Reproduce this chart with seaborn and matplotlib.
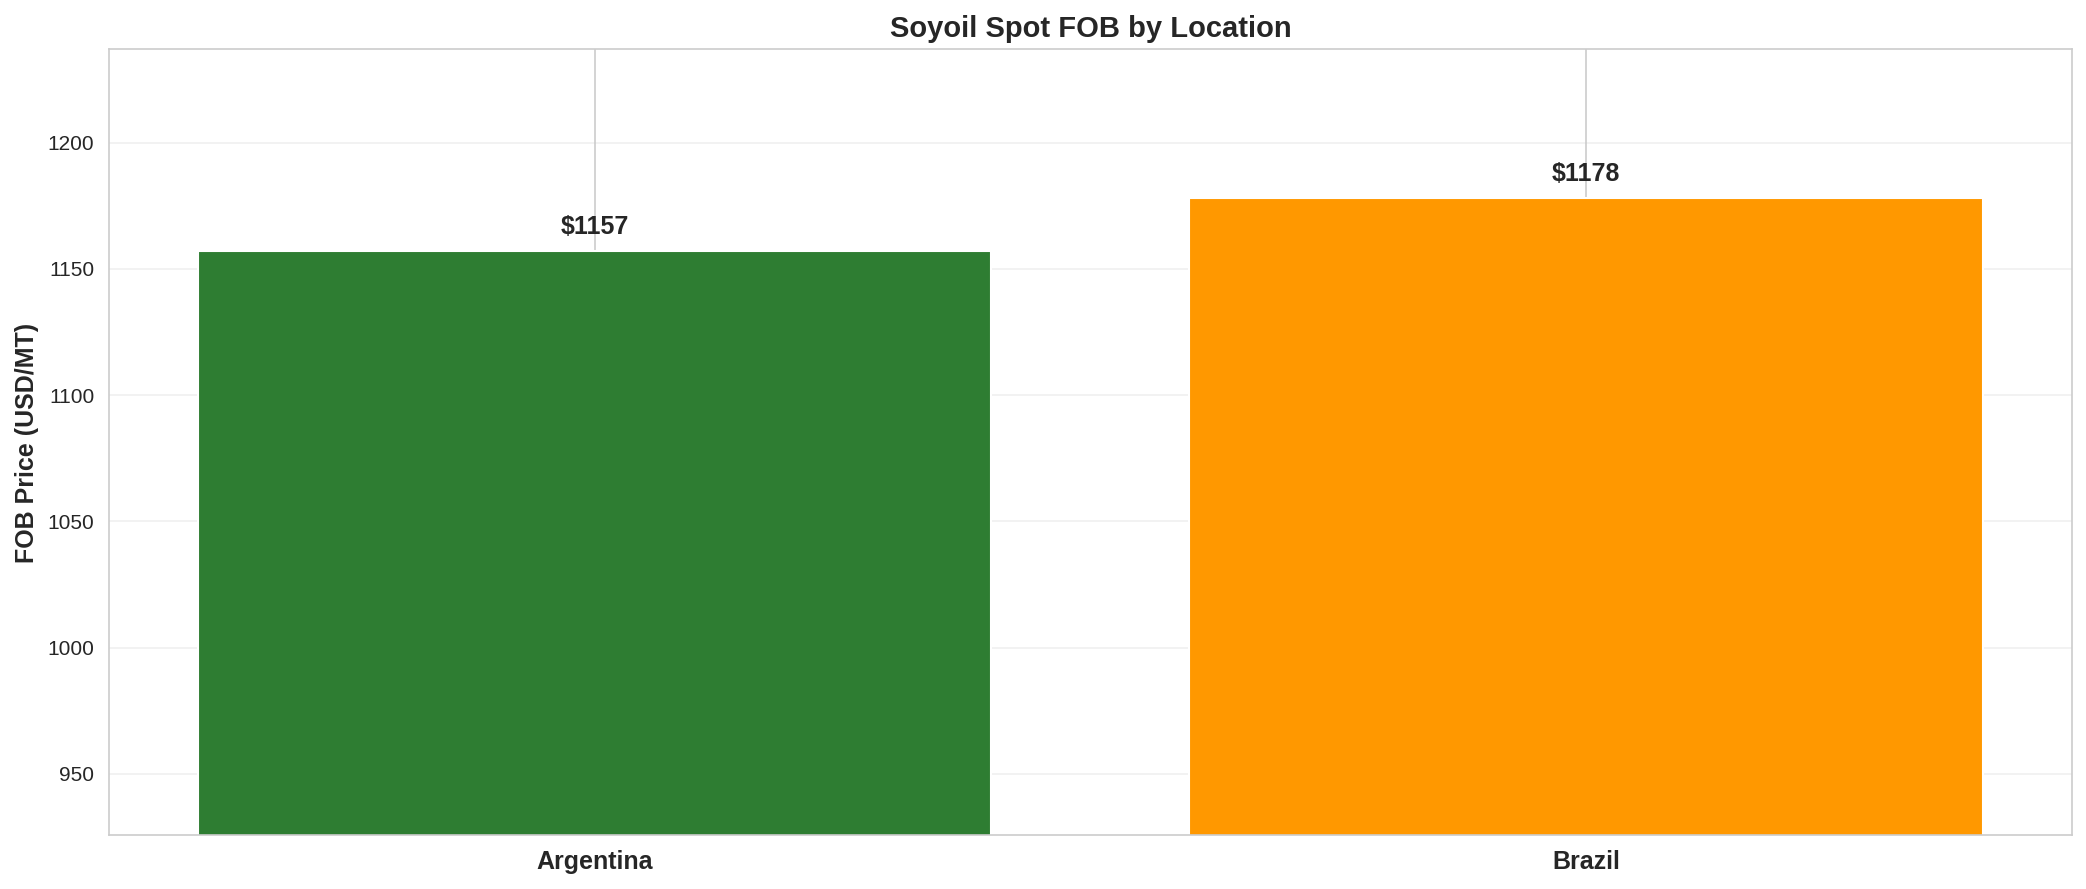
import matplotlib
matplotlib.use("Agg")
import matplotlib.pyplot as plt
import seaborn as sns
import pandas as pd

locations = ["Argentina", "Brazil"]
fob_prices = [1157, 1178]
bar_colors = ["#2E7D32", "#FF9800"]

sns.set_style("whitegrid")
plt.rcParams['font.family'] = ['Liberation Sans', 'DejaVu Sans']

df = pd.DataFrame({"Location": locations, "Price": fob_prices})

fig, ax = plt.subplots(figsize=(14, 6))
sns.barplot(data=df, x="Location", y="Price", hue="Location",
            palette=bar_colors, saturation=1, width=0.8, legend=False, ax=ax)

for i, v in enumerate(fob_prices):
    ax.text(i, v + 5, f"${v}", ha="center", va="bottom",
            fontsize=12, fontweight="bold")

# plain matplotlib margins, as with plt.bar
ax.set_xlim(-0.4 - 0.09, len(locations) - 0.6 + 0.09)
ax.set_ylim(min(fob_prices) * 0.8, max(fob_prices) * 1.05)
ax.set_title("Soyoil Spot FOB by Location", fontsize=14, fontweight="bold")
ax.set_ylabel("FOB Price (USD/MT)", fontsize=12, fontweight="bold")
ax.set_xlabel("")
ax.set_xticks(range(len(locations)))
ax.set_xticklabels(locations, fontsize=12, fontweight="bold")
ax.xaxis.grid(True, color="#cccccc")
ax.set_axisbelow(True)
ax.grid(axis="y", alpha=0.3)

plt.tight_layout()
plt.savefig("out.png", dpi=150, bbox_inches="tight")
plt.close()
